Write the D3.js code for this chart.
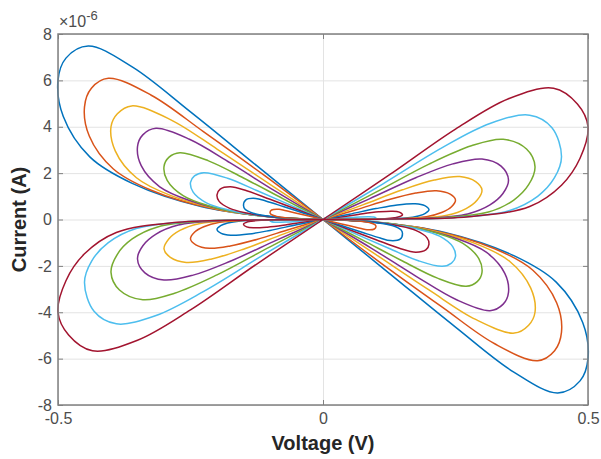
<!DOCTYPE html>
<html>
<head>
<style>
  body{
    margin: 0;
    background: white;
    font-family: 'Liberation Sans', Arial, sans-serif;
  }
</style>
</head>
<body>
  <svg id='svgVis'></svg>

<script src="https://d3js.org/d3.v7.min.js"></script>
<script>

// current values are in units of 1e-6 A (axis shows x10^-6)
var xTicks = [-0.5, 0, 0.5];
var yTicks = [-8, -6, -4, -2, 0, 2, 4, 6, 8];

var lineColors = ["#0072BD", "#D95319", "#EDB120", "#7E2F8E", "#77AC30", "#4DBEEE", "#A2142F"];

// family A : lobes in the upper-left quadrant [V, I], the opposite lobe is the point reflection
var lobeA50 = [[0,0],[-0.125,2.32],[-0.25,4.64],[-0.36,6.58],[-0.443,7.48],[-0.485,6.96],[-0.5,6.0],[-0.49,4.44],[-0.44,2.7],[-0.36,1.56],[-0.23,0.56],[-0.1,0.12],[0,0]];
var lobeA45 = [[0,0],[-0.11,1.89],[-0.225,3.78],[-0.324,5.36],[-0.405,6.09],[-0.437,5.66],[-0.45,4.86],[-0.441,3.6],[-0.396,2.19],[-0.324,1.26],[-0.207,0.46],[-0.09,0.1],[0,0]];
var lobeA40 = [[0,0],[-0.1,1.52],[-0.2,3.04],[-0.288,4.31],[-0.361,4.9],[-0.388,4.56],[-0.4,4.0],[-0.392,2.96],[-0.352,1.8],[-0.288,1.04],[-0.184,0.38],[-0.08,0.08],[0,0]];
var lobeA35 = [[0,0],[-0.09,1.22],[-0.175,2.44],[-0.252,3.46],[-0.315,3.93],[-0.34,3.65],[-0.35,3.14],[-0.343,2.32],[-0.308,1.41],[-0.252,0.82],[-0.161,0.3],[-0.07,0.06],[0,0]];
var lobeA30 = [[0,0],[-0.075,0.89],[-0.15,1.79],[-0.216,2.53],[-0.27,2.88],[-0.291,2.68],[-0.3,2.28],[-0.294,1.69],[-0.264,1.03],[-0.216,0.59],[-0.138,0.21],[-0.06,0.05],[0,0]];
var lobeA25 = [[0,0],[-0.0625,0.63],[-0.125,1.25],[-0.18,1.78],[-0.225,2.02],[-0.2425,1.88],[-0.25,1.6],[-0.245,1.18],[-0.22,0.72],[-0.18,0.42],[-0.115,0.15],[-0.05,0.03],[0,0]];
var lobeA20 = [[0,0],[-0.05,0.44],[-0.1,0.87],[-0.144,1.24],[-0.175,1.41],[-0.194,1.31],[-0.2,1.06],[-0.196,0.78],[-0.176,0.48],[-0.144,0.28],[-0.092,0.1],[-0.04,0.02],[0,0]];
var lobeA15 = [[0,0],[-0.0375,0.28],[-0.075,0.56],[-0.108,0.8],[-0.127,0.91],[-0.1455,0.85],[-0.15,0.6],[-0.147,0.44],[-0.132,0.27],[-0.108,0.16],[-0.069,0.06],[-0.03,0.01],[0,0]];
var lobeA10 = [[0,0],[-0.025,0.14],[-0.05,0.27],[-0.072,0.39],[-0.083,0.44],[-0.097,0.41],[-0.1,0.3],[-0.098,0.22],[-0.088,0.135],[-0.072,0.078],[-0.046,0.028],[-0.02,0.006],[0,0]];

// family B : lobes in the upper-right quadrant
var lobeB10 = [[0,0],[0.025,0.04],[0.05,0.083],[0.07,0.11],[0.087,0.12],[0.096,0.105],[0.1,0.07],[0.097,0.046],[0.09,0.026],[0.078,0.01],[0.055,0.002],[0.025,0],[0,0]];
var lobeB15 = [[0,0],[0.0375,0.12],[0.075,0.25],[0.105,0.33],[0.13,0.36],[0.144,0.32],[0.15,0.2],[0.1455,0.13],[0.135,0.075],[0.117,0.03],[0.0825,0.006],[0.0375,0.001],[0,0]];
var lobeB20 = [[0,0],[0.05,0.23],[0.1,0.47],[0.14,0.63],[0.174,0.68],[0.192,0.6],[0.2,0.42],[0.194,0.28],[0.18,0.155],[0.156,0.06],[0.11,0.013],[0.05,0.002],[0,0]];
var lobeB25 = [[0,0],[0.0625,0.42],[0.125,0.86],[0.175,1.14],[0.214,1.24],[0.24,1.09],[0.25,0.84],[0.2425,0.55],[0.225,0.31],[0.195,0.12],[0.1375,0.025],[0.0625,0.005],[0,0]];
var lobeB30 = [[0,0],[0.075,0.63],[0.15,1.28],[0.21,1.7],[0.258,1.85],[0.288,1.63],[0.3,1.27],[0.291,0.84],[0.27,0.47],[0.234,0.18],[0.165,0.04],[0.075,0.01],[0,0]];
var lobeB35 = [[0,0],[0.0875,0.89],[0.175,1.8],[0.245,2.4],[0.3,2.61],[0.336,2.3],[0.35,1.7],[0.3395,1.12],[0.315,0.63],[0.273,0.24],[0.1925,0.05],[0.0875,0.01],[0,0]];
var lobeB40 = [[0,0],[0.1,1.18],[0.2,2.39],[0.28,3.18],[0.34,3.46],[0.384,3.04],[0.4,2.28],[0.388,1.5],[0.36,0.84],[0.312,0.32],[0.22,0.07],[0.1,0.01],[0,0]];
var lobeB45 = [[0,0],[0.1125,1.53],[0.225,3.1],[0.315,4.14],[0.39,4.5],[0.432,3.96],[0.45,2.71],[0.4365,1.79],[0.405,1.0],[0.351,0.38],[0.2475,0.08],[0.1125,0.01],[0,0]];
var lobeB50 = [[0,0],[0.125,1.92],[0.25,3.9],[0.35,5.21],[0.435,5.66],[0.48,4.98],[0.5,4.0],[0.485,2.64],[0.45,1.48],[0.39,0.56],[0.275,0.12],[0.125,0.02],[0,0]];

// drawing order as in the original plot (colour index follows the order)
var loops = [
  {lobe: lobeA50, c: 0}, {lobe: lobeA45, c: 1}, {lobe: lobeA40, c: 2}, {lobe: lobeA35, c: 3},
  {lobe: lobeA30, c: 4}, {lobe: lobeA25, c: 5}, {lobe: lobeA20, c: 6}, {lobe: lobeA15, c: 0},
  {lobe: lobeA10, c: 1},
  {lobe: lobeB10, c: 5}, {lobe: lobeB15, c: 6}, {lobe: lobeB20, c: 0}, {lobe: lobeB25, c: 1},
  {lobe: lobeB30, c: 2}, {lobe: lobeB35, c: 3}, {lobe: lobeB40, c: 4}, {lobe: lobeB45, c: 5},
  {lobe: lobeB50, c: 6}
];

var width = 601, height = 459;
var margin = {top: 34, right: 13, bottom: 54, left: 58};
var plotW = width - margin.left - margin.right,
    plotH = height - margin.top - margin.bottom;

var svg = d3.select("#svgVis")
    .attr("width", width)
    .attr("height", height);

var x = d3.scaleLinear().domain([-0.5, 0.5]).range([margin.left, margin.left + plotW]);
var y = d3.scaleLinear().domain([-8, 8]).range([margin.top + plotH, margin.top]);

// grid
svg.append("g")
  .attr("transform", "translate(" + margin.left + ",0)")
  .call(d3.axisLeft(y).tickValues(yTicks).tickSize(-plotW).tickFormat(""))
  .call(function(g) { g.select(".domain").remove(); })
  .selectAll("line").attr("stroke", "#e3e3e3");

svg.append("g")
  .attr("transform", "translate(0," + (margin.top + plotH) + ")")
  .call(d3.axisBottom(x).tickValues(xTicks).tickSize(-plotH).tickFormat(""))
  .call(function(g) { g.select(".domain").remove(); })
  .selectAll("line").attr("stroke", "#e3e3e3");

// loops
var line = d3.line()
  .x(function(d) { return x(d[0]); })
  .y(function(d) { return y(d[1]); })
  .curve(d3.curveCatmullRom.alpha(0.5));

var plot = svg.append("g");

loops.forEach(function(l) {
  var mirrored = l.lobe.map(function(d) { return [-d[0], -d[1]]; });
  [l.lobe, mirrored].forEach(function(pts) {
    plot.append("path")
      .attr("d", line(pts))
      .attr("fill", "none")
      .attr("stroke", lineColors[l.c])
      .attr("stroke-width", 1.5);
  });
});

// axes, ticks inside as in matlab
var tickCol = "#4d4d4d";
function styleAxis(g) {
  g.select(".domain").remove();
  g.selectAll("line").attr("stroke", "#808080");
  g.selectAll("text").attr("fill", tickCol).style("font-size", "16px")
    .style("font-family", "'Liberation Sans', Arial, sans-serif");
}
var fmt = function(d) { return String(d); };

svg.append("g")
  .attr("transform", "translate(0," + (margin.top + plotH) + ")")
  .call(d3.axisBottom(x).tickValues(xTicks).tickSizeInner(-5).tickSizeOuter(0).tickPadding(8).tickFormat(fmt))
  .call(styleAxis);
svg.append("g")
  .attr("transform", "translate(0," + margin.top + ")")
  .call(d3.axisTop(x).tickValues(xTicks).tickSizeInner(-5).tickSizeOuter(0).tickFormat(""))
  .call(styleAxis);
svg.append("g")
  .attr("transform", "translate(" + margin.left + ",0)")
  .call(d3.axisLeft(y).tickValues(yTicks).tickSizeInner(-5).tickSizeOuter(0).tickPadding(6).tickFormat(fmt))
  .call(styleAxis);
svg.append("g")
  .attr("transform", "translate(" + (margin.left + plotW) + ",0)")
  .call(d3.axisRight(y).tickValues(yTicks).tickSizeInner(-5).tickSizeOuter(0).tickFormat(""))
  .call(styleAxis);

svg.append("rect")
  .attr("x", margin.left)
  .attr("y", margin.top)
  .attr("width", plotW)
  .attr("height", plotH)
  .attr("fill", "none")
  .attr("stroke", "#808080")
  .attr("stroke-width", 1.5);

// exponent
var expo = svg.append("text")
  .attr("x", margin.left + 1)
  .attr("y", margin.top - 7)
  .attr("fill", tickCol)
  .style("font-size", "16px");
expo.append("tspan").text("\u00d710");
expo.append("tspan").attr("dy", -7).style("font-size", "13px").text("-6");

// labels
svg.append("text")
  .attr("x", margin.left + plotW / 2)
  .attr("y", height - 9)
  .attr("text-anchor", "middle")
  .attr("fill", "#262626")
  .style("font-size", "20px")
  .style("font-weight", "bold")
  .text("Voltage (V)");

svg.append("text")
  .attr("transform", "translate(26," + (margin.top + plotH / 2) + ") rotate(-90)")
  .attr("text-anchor", "middle")
  .attr("fill", "#262626")
  .style("font-size", "20px")
  .style("font-weight", "bold")
  .text("Current (A)");

</script>
</body>
</html>
